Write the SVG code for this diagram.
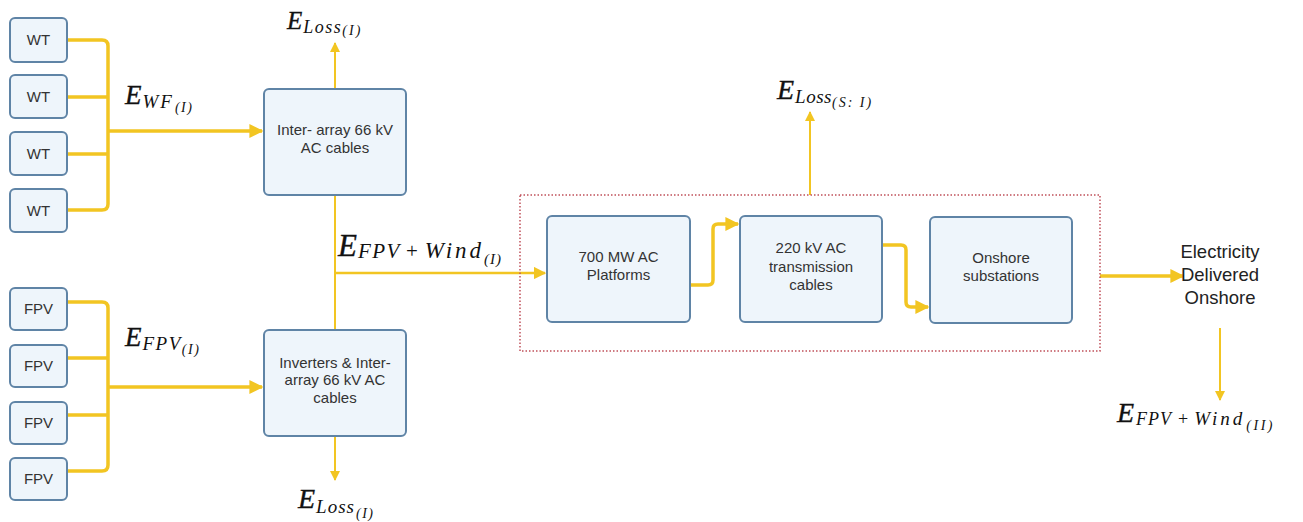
<svg xmlns="http://www.w3.org/2000/svg" width="1303" height="522" viewBox="0 0 1303 522">
<defs>
<style>
.box{fill:#EEF5FB;stroke:#5F84A6;stroke-width:2}
.lbl{font-family:"Liberation Sans",Arial,sans-serif;font-size:15px;fill:#333;text-anchor:middle}
.out{font-family:"Liberation Sans",Arial,sans-serif;font-size:18.5px;fill:#222;text-anchor:middle}
.bus{fill:none;stroke:#F2C522;stroke-width:3.5;stroke-linejoin:round}
.thin{fill:none;stroke:#F2C522;stroke-width:2}
.math{font-family:"Liberation Serif","Times New Roman",serif;font-style:italic;fill:#111}
.E{stroke:#111;stroke-width:0.35}
.up{font-style:normal}
</style>
<marker id="ah" viewBox="0 0 10 10" refX="9" refY="5" markerWidth="4" markerHeight="4" markerUnits="strokeWidth" orient="auto">
<path d="M0,0 L10,5 L0,10 z" fill="#F2C522"/>
</marker>
<marker id="ahs" viewBox="0 0 10 10" refX="9" refY="5" markerWidth="5" markerHeight="5" markerUnits="strokeWidth" orient="auto">
<path d="M0,0 L10,5 L0,10 z" fill="#F2C522"/>
</marker>
</defs>
<rect width="1303" height="522" fill="#fff"/>

<g id="connectors">
<path class="bus" d="M67,40 H102 Q108,40 108,46 V204 Q108,210 102,210 H67"/>
<path class="bus" d="M67,97 H108 M67,154 H108"/>
<path class="bus" d="M108,131 H262" marker-end="url(#ah)"/>
<path class="bus" d="M67,302 H102 Q108,302 108,308 V465 Q108,471 102,471 H67"/>
<path class="bus" d="M67,358 H108 M67,415 H108"/>
<path class="bus" d="M108,387 H262" marker-end="url(#ah)"/>
<path class="thin" d="M335,195 V330"/>
<path class="thin" style="stroke-width:2.5" d="M335,273 H545" marker-end="url(#ahs)"/>
<path class="thin" d="M335,89 V43" marker-end="url(#ahs)"/>
<path class="thin" d="M335,436 V480" marker-end="url(#ahs)"/>
<path class="bus" d="M690,285 H708 Q713,285 713,280 V229 Q713,224 718,224 H738" marker-end="url(#ah)"/>
<path class="bus" d="M882,245 H901 Q906,245 906,250 V302 Q906,307 911,307 H928" marker-end="url(#ah)"/>
<path class="thin" d="M810,195 V112" marker-end="url(#ahs)"/>
<path class="bus" d="M1100,276 H1183" marker-end="url(#ah)"/>
<path class="thin" d="M1220,328 V400" marker-end="url(#ahs)"/>
</g>

<rect id="group" x="520" y="195" width="580" height="156" fill="none" stroke="#C0505A" stroke-width="1.5" stroke-dasharray="1.5 2"/>

<g id="wt1"><rect class="box" x="10" y="18" width="57" height="44" rx="5"/><text class="lbl" x="38.5" y="45">WT</text></g>
<g id="wt2"><rect class="box" x="10" y="75" width="57" height="43" rx="5"/><text class="lbl" x="38.5" y="102">WT</text></g>
<g id="wt3"><rect class="box" x="10" y="132" width="57" height="43" rx="5"/><text class="lbl" x="38.5" y="159">WT</text></g>
<g id="wt4"><rect class="box" x="10" y="189" width="57" height="43" rx="5"/><text class="lbl" x="38.5" y="216">WT</text></g>

<g id="fpv1"><rect class="box" x="10" y="288" width="57" height="42" rx="5"/><text class="lbl" x="38.5" y="314">FPV</text></g>
<g id="fpv2"><rect class="box" x="10" y="345" width="57" height="42" rx="5"/><text class="lbl" x="38.5" y="371">FPV</text></g>
<g id="fpv3"><rect class="box" x="10" y="402" width="57" height="42" rx="5"/><text class="lbl" x="38.5" y="428">FPV</text></g>
<g id="fpv4"><rect class="box" x="10" y="458" width="57" height="42" rx="5"/><text class="lbl" x="38.5" y="484">FPV</text></g>

<g id="interarray"><rect class="box" x="264" y="89" width="142" height="106" rx="5"/>
<text class="lbl" x="335" y="135">Inter- array 66 kV</text><text class="lbl" x="335" y="153">AC cables</text></g>

<g id="inverters"><rect class="box" x="264" y="330" width="142" height="106" rx="5"/>
<text class="lbl" x="335" y="368">Inverters &amp; Inter-</text><text class="lbl" x="335" y="385">array 66 kV AC</text><text class="lbl" x="335" y="403">cables</text></g>

<g id="platforms"><rect class="box" x="547" y="216" width="143" height="106" rx="5"/>
<text class="lbl" x="618.5" y="262">700 MW AC</text><text class="lbl" x="618.5" y="280">Platforms</text></g>

<g id="transmission"><rect class="box" x="740" y="216" width="142" height="106" rx="5"/>
<text class="lbl" x="811" y="253">220 kV AC</text><text class="lbl" x="811" y="272">transmission</text><text class="lbl" x="811" y="290">cables</text></g>

<g id="onshore"><rect class="box" x="930" y="217" width="142" height="106" rx="5"/>
<text class="lbl" x="1001" y="263">Onshore</text><text class="lbl" x="1001" y="281">substations</text></g>

<g id="delivered"><text class="out" x="1220" y="258">Electricity</text><text class="out" x="1220" y="281">Delivered</text><text class="out" x="1220" y="304">Onshore</text></g>

<g id="labels">
<text class="math" x="287" y="29"><tspan class="E" font-size="25">E</tspan><tspan font-size="18" dx="1" dy="4" letter-spacing="1.5">Loss</tspan><tspan font-size="14" dy="2" letter-spacing="2">(I)</tspan></text>
<text class="math" x="125" y="104"><tspan class="E" font-size="27">E</tspan><tspan font-size="19" dx="1" dy="4" letter-spacing="2">WF</tspan><tspan font-size="14" dx="1" dy="4" letter-spacing="1.5">(I)</tspan></text>
<text class="math" x="125" y="346"><tspan class="E" font-size="27">E</tspan><tspan font-size="19" dx="1" dy="4" letter-spacing="1.5">FPV</tspan><tspan font-size="14" dy="4" letter-spacing="1.5">(I)</tspan></text>
<text class="math" x="338" y="256"><tspan class="E" font-size="31">E</tspan><tspan font-size="21" dx="1" dy="2" letter-spacing="1.5">FPV</tspan><tspan class="up" font-size="21" dx="5">+</tspan><tspan font-size="23" dx="7" letter-spacing="3">Wind</tspan><tspan font-size="15" dy="6" letter-spacing="1">(I)</tspan></text>
<text class="math" x="298" y="508"><tspan class="E" font-size="28">E</tspan><tspan font-size="19" dx="1" dy="5" letter-spacing="1">Loss</tspan><tspan font-size="14" dx="1" dy="5" letter-spacing="1.5">(I)</tspan></text>
<text class="math" x="777" y="99"><tspan class="E" font-size="28">E</tspan><tspan font-size="19" dx="1" dy="4" letter-spacing="0.5">Loss</tspan><tspan font-size="14" dy="4" letter-spacing="2">(S: I)</tspan></text>
<text class="math" x="1117" y="422"><tspan class="E" font-size="28">E</tspan><tspan font-size="18" dx="2" dy="3" letter-spacing="1">FPV</tspan><tspan class="up" font-size="18" dx="6">+</tspan><tspan font-size="19" dx="6" letter-spacing="3">Wind</tspan><tspan font-size="14" dx="1" dy="5" letter-spacing="2.5">(II)</tspan></text>
</g>
</svg>
